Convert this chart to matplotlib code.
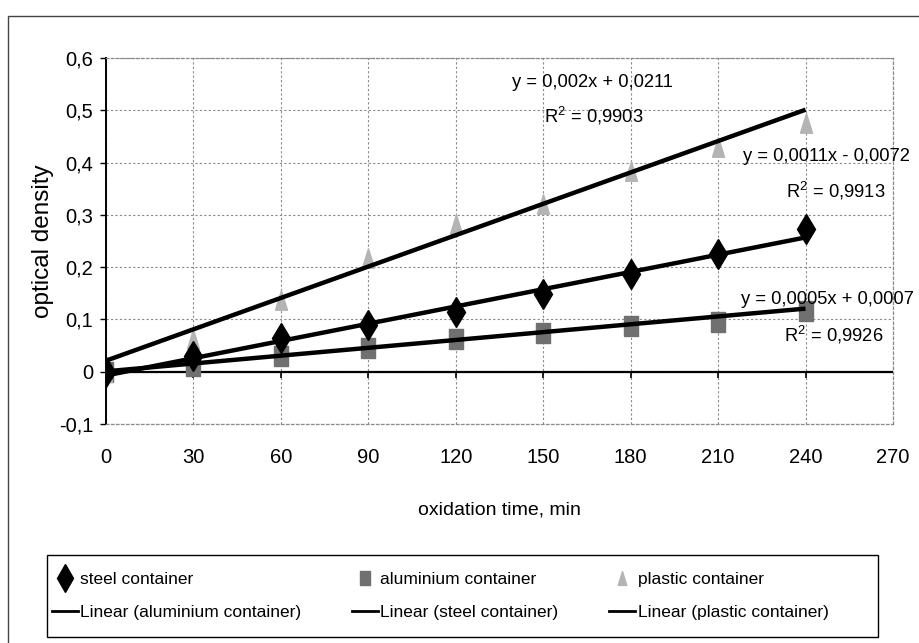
import matplotlib
matplotlib.use("Agg")
import numpy as np
import matplotlib.pyplot as plt
from matplotlib.lines import Line2D
from matplotlib.patches import Rectangle

# data
time_min = [0, 30, 60, 90, 120, 150, 180, 210, 240]
steel = [0, 0.03, 0.065, 0.09, 0.114, 0.148, 0.186, 0.226, 0.272]
aluminium = [0, 0.011, 0.03, 0.046, 0.062, 0.074, 0.087, 0.095, 0.117]
plastic = [0, 0.062, 0.138, 0.217, 0.283, 0.32, 0.383, 0.429, 0.476]

# trendline coefficients (slope, intercept) as printed on the chart
fit_steel = (0.0011, -0.0072)
fit_alu = (0.0005, 0.0007)
fit_plastic = (0.002, 0.0211)

eq_labels = {
    "plastic": ("y = 0,002x + 0,0211", "R$^2$ = 0,9903"),
    "steel": ("y = 0,0011x - 0,0072", "R$^2$ = 0,9913"),
    "alu": ("y = 0,0005x + 0,0007", "R$^2$ = 0,9926"),
}

xticks = [0, 30, 60, 90, 120, 150, 180, 210, 240, 270]
yticks = [-0.1, 0, 0.1, 0.2, 0.3, 0.4, 0.5, 0.6]
ytick_labels = ["-0,1", "0", "0,1", "0,2", "0,3", "0,4", "0,5", "0,6"]

plt.rcParams["font.family"] = ["Liberation Sans", "DejaVu Sans"]
plt.rcParams["mathtext.fontset"] = "custom"
plt.rcParams["mathtext.rm"] = "Liberation Sans"

fig = plt.figure(figsize=(9.2, 6.43), dpi=100)
ax = fig.add_axes([0.1152, 0.3406, 0.8554, 0.5692])

# outer chart border
fig.add_artist(Rectangle((0.009, -0.01), 1.0, 0.985, transform=fig.transFigure,
                         fill=False, edgecolor="#444444", linewidth=1.0))

tall_tri = [(-0.62, -1), (0.62, -1), (0, 1), (-0.62, -1)]
tall_sq = [(-0.72, -1), (0.72, -1), (0.72, 1), (-0.72, 1), (-0.72, -1)]

ax.plot(time_min, aluminium, linestyle="none", marker=tall_sq, markersize=14,
        color="#707070", zorder=3)
ax.plot(time_min, plastic, linestyle="none", marker=tall_tri, markersize=14,
        color="#b4b4b4", zorder=3)
ax.plot(time_min, steel, linestyle="none", marker="d", markersize=15,
        color="black", zorder=3)

xfit = np.array([time_min[0], time_min[-1]])
for k, b in (fit_alu, fit_steel, fit_plastic):
    ax.plot(xfit, k * xfit + b, color="black", linewidth=3.2, zorder=4,
            solid_capstyle="butt")

# zero line with Excel-style tick marks
ax.axhline(0, color="black", linewidth=1.6, zorder=2)
ax.vlines(xticks[1:-1], -0.012, 0, color="black", linewidth=1.2, zorder=2)

ax.set_xlim(0, 270)
ax.set_ylim(-0.1, 0.6)
ax.set_xticks(xticks)
ax.set_xticklabels([str(t) for t in xticks], fontsize=14.5)
ax.set_yticks(yticks)
ax.set_yticklabels(ytick_labels, fontsize=14.5)
ax.tick_params(axis="x", length=0, pad=17)
ax.tick_params(axis="y", length=4, direction="out", width=1, pad=5)

ax.grid(True, color="#8a8a8a", linestyle=(0, (2, 2)), linewidth=0.8)
ax.set_axisbelow(True)
for side in ("top", "right", "bottom"):
    ax.spines[side].set_color("#8a8a8a")
    ax.spines[side].set_linestyle((0, (2, 2)))
    ax.spines[side].set_linewidth(0.9)
ax.spines["left"].set_color("black")
ax.spines["left"].set_linewidth(1.4)

ax.set_xlabel("oxidation time, min", fontsize=14, labelpad=25)
ax.set_ylabel("optical density", fontsize=17.5, labelpad=4)

txt = dict(fontsize=13.2, color="black", zorder=5, clip_on=False)
ax.text(166.8, 0.554, eq_labels["plastic"][0], ha="center", va="center", **txt)
ax.text(167.5, 0.489, eq_labels["plastic"][1], ha="center", va="center", **txt)
ax.text(218.5, 0.4125, eq_labels["steel"][0], ha="left", va="center", **txt)
ax.text(267.4, 0.345, eq_labels["steel"][1], ha="right", va="center", **txt)
ax.text(218.0, 0.139, eq_labels["alu"][0], ha="left", va="center", **txt)
ax.text(266.7, 0.070, eq_labels["alu"][1], ha="right", va="center", **txt)

h_steel = Line2D([], [], linestyle="none", marker="d", markersize=14, color="black")
h_alu = Line2D([], [], linestyle="none", marker=tall_sq, markersize=10, color="#707070")
h_pl = Line2D([], [], linestyle="none", marker=tall_tri, markersize=10, color="#b4b4b4")
h_line = Line2D([], [], color="black", linewidth=2)

handles = [h_steel, h_line, h_alu, h_line, h_pl, h_line]
labels = ["steel container", "Linear (aluminium container)",
          "aluminium container", "Linear (steel container)",
          "plastic container", "Linear (plastic container)"]

# Excel-like legend box: entries packed from the left inside a wide frame
fig.add_artist(Rectangle((47 / 920, 1 - 637 / 643), 831 / 920, 82 / 643,
                         transform=fig.transFigure, fill=False,
                         edgecolor="black", linewidth=1.0))
leg = fig.legend(handles, labels, loc="center left", ncol=3,
                 bbox_to_anchor=(50 / 920, 1 - 596 / 643), borderaxespad=0,
                 fontsize=12.5, frameon=False,
                 handlelength=1.5, handletextpad=0.15, columnspacing=2.9,
                 labelspacing=1.05, borderpad=0.1)

fig.savefig("out.png", dpi=100)
